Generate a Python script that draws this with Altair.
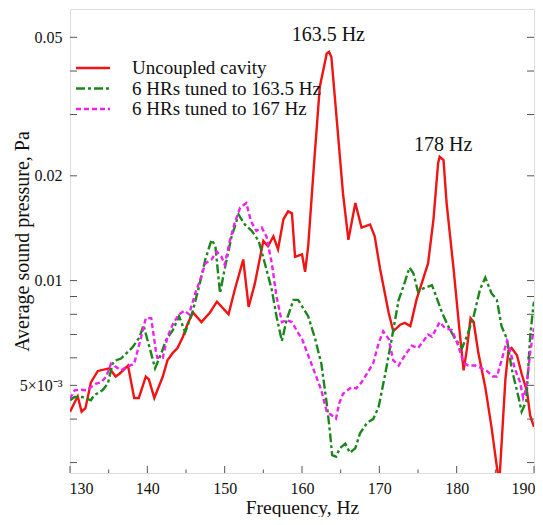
import altair as alt
import pandas as pd

# ---------------- data ----------------
red_f = [130.0, 131.0, 131.5, 132.0, 132.7, 133.6, 135.1, 135.9, 136.4, 137.5, 138.3, 138.9,
         139.8, 140.2, 140.9, 142.0, 142.6, 143.3, 143.9, 144.6, 145.2, 145.9, 147.0, 148.1,
         149.0, 150.5, 151.3, 152.4, 153.1, 153.9, 155.0, 155.6, 156.3, 156.9, 157.6, 158.2,
         158.7, 159.1, 160.0, 160.4, 160.8, 161.5, 162.3, 163.2, 163.5, 163.8, 164.5, 165.3,
         166.0, 166.9, 167.7, 168.8, 169.4, 170.1, 171.2, 171.8, 172.7, 173.3, 174.0, 174.2,
         174.8, 175.5, 176.3, 177.0, 177.6, 177.8, 178.3, 178.7, 179.6, 180.4, 180.9, 181.3,
         181.8, 182.2, 182.8, 183.7, 184.5, 185.5, 186.3, 186.7, 187.1, 187.8, 188.4, 189.1,
         189.5, 190.0]
red_v = [0.0042, 0.00465, 0.0042, 0.0043, 0.0051, 0.0055, 0.0056, 0.0053, 0.0054, 0.0057, 0.0046, 0.0046,
         0.0053, 0.0052, 0.0046, 0.0053, 0.0059, 0.0062, 0.0064, 0.0069, 0.0075, 0.0081, 0.0076, 0.0081,
         0.0087, 0.0080, 0.0094, 0.0115, 0.0084, 0.0098, 0.0130, 0.01255, 0.0134, 0.0123, 0.0150, 0.0158,
         0.0156, 0.0117, 0.0119, 0.0106, 0.01255, 0.0208, 0.036, 0.0449, 0.0454, 0.0439, 0.0289, 0.0178,
         0.0131, 0.0167, 0.0142, 0.0145, 0.0134, 0.0108, 0.0081, 0.00715, 0.00747, 0.00756, 0.0074, 0.0077,
         0.0088, 0.00985, 0.0112, 0.0150, 0.02175, 0.0227, 0.0222, 0.0167, 0.0108, 0.00707, 0.00552, 0.0063,
         0.0078, 0.0076, 0.0062, 0.00494, 0.0038, 0.0026, 0.0052, 0.0063, 0.0064, 0.0061, 0.0054, 0.0048,
         0.0041, 0.0038]

green_f = [130.0, 130.6, 131.6, 132.7, 133.1, 134.2, 134.9, 135.5, 135.9, 136.6, 138.1, 139.0,
           139.5, 140.5, 141.0, 141.8, 142.4, 143.3, 144.1, 144.9, 145.9, 146.8, 147.5, 148.3,
           148.8, 149.4, 150.0, 150.9, 151.8, 152.6, 153.5, 154.4, 155.2, 156.1, 156.7, 157.4,
           158.0, 158.9, 159.5, 160.2, 160.8, 161.7, 162.5, 163.2, 163.6, 163.9, 164.4, 164.9,
           165.6, 166.2, 166.9, 167.5, 168.4, 169.2, 169.9, 170.7, 171.6, 172.5, 173.1, 173.9,
           174.4, 175.0, 175.7, 176.8, 177.2, 178.1, 178.9, 179.8, 180.7, 181.3, 182.2, 183.0,
           183.7, 184.5, 185.2, 185.8, 186.5, 187.1, 188.0, 188.4, 189.0, 189.5, 189.9, 190.0]
green_v = [0.00453, 0.00463, 0.00463, 0.00453, 0.00468, 0.00484, 0.00506, 0.00577, 0.0059, 0.00597, 0.00644, 0.00688,
           0.00744, 0.00617, 0.0056, 0.00617, 0.00674, 0.0072, 0.0079, 0.0071, 0.0082, 0.00985, 0.0115, 0.0131,
           0.01255, 0.0092, 0.0108, 0.0134, 0.01547, 0.0145, 0.0139, 0.0130, 0.0112, 0.0094, 0.0079, 0.0067,
           0.0077, 0.0088, 0.0088, 0.0083, 0.0079, 0.0068, 0.00577, 0.00443, 0.0037, 0.00315, 0.00312, 0.0033,
           0.0034, 0.0032, 0.0033, 0.00364, 0.0039, 0.0040, 0.00433, 0.0053, 0.0068, 0.0088, 0.0096, 0.0109,
           0.0105, 0.0093, 0.0095, 0.0097, 0.0092, 0.0081, 0.0074, 0.0068, 0.0064, 0.0069, 0.0079, 0.0094,
           0.0102, 0.0092, 0.0088, 0.0074, 0.0068, 0.0056, 0.00462, 0.0042, 0.0045, 0.0069, 0.0084, 0.0087]

mag_f = [130.0, 130.6, 131.2, 132.1, 133.4, 134.0, 134.7, 135.3, 136.6, 137.2, 138.3, 139.2,
         139.8, 140.5, 141.1, 141.3, 142.0, 142.6, 143.3, 144.1, 144.8, 145.4, 146.2, 146.8,
         147.5, 148.3, 149.0, 149.6, 150.0, 150.7, 151.3, 152.0, 152.8, 153.4, 154.1, 154.8,
         155.4, 156.1, 156.7, 157.4, 158.0, 158.7, 159.3, 160.0, 160.8, 161.7, 162.5, 163.2,
         163.8, 164.4, 164.8, 165.3, 166.4, 167.0, 167.7, 168.6, 169.2, 169.9, 170.5, 171.2,
         171.8, 172.5, 173.3, 174.2, 175.0, 175.7, 176.3, 176.8, 177.4, 177.8, 178.5, 179.4,
         180.2, 180.9, 181.5, 182.4, 183.2, 183.9, 184.7, 185.2, 185.8, 186.5, 186.9, 187.5,
         188.2, 188.6, 189.0, 189.5, 189.9, 190.0]
mag_v = [0.00458, 0.00484, 0.00486, 0.00484, 0.00506, 0.0051, 0.0053, 0.00577, 0.00552, 0.00563, 0.00577, 0.00688,
         0.0078, 0.0078, 0.0063, 0.006, 0.006, 0.00688, 0.0075, 0.0080, 0.0082, 0.0080, 0.0092, 0.0100,
         0.0112, 0.0115, 0.0121, 0.0117, 0.0111, 0.0131, 0.01465, 0.0162, 0.0167, 0.0148, 0.0139, 0.0142,
         0.0134, 0.0112, 0.0090, 0.0076, 0.0077, 0.0076, 0.0072, 0.0068, 0.0061, 0.0054, 0.00484, 0.0042,
         0.00411, 0.00401, 0.00443, 0.00473, 0.00494, 0.0049, 0.0051, 0.0055, 0.00578, 0.0066, 0.00715, 0.0068,
         0.0059, 0.0057, 0.0061, 0.0065, 0.0064, 0.0067, 0.0070, 0.0069, 0.0073, 0.0076, 0.0073, 0.0072,
         0.0065, 0.0058, 0.0057, 0.0057, 0.0056, 0.0055, 0.0053, 0.0053, 0.0059, 0.0067, 0.0063, 0.0056,
         0.0051, 0.0046, 0.0049, 0.0062, 0.0071, 0.0073]

series_names = ["Uncoupled cavity", "6 HRs tuned to 163.5 Hz", "6 HRs tuned to 167 Hz"]
series_colors = ["#f01414", "#1b861b", "#ee22ee"]

peak_f = [163.4, 178.25]
peak_v = [0.0507, 0.0245]
peak_labels = ["163.5 Hz", "178 Hz"]

x_major = [130, 140, 150, 160, 170, 180, 190]
x_minor = [135, 145, 155, 165, 175, 185]
y_ticks = [0.003, 0.004, 0.005, 0.006, 0.007, 0.008, 0.009, 0.01, 0.02, 0.03, 0.04, 0.05]
y_labelled = [0.005, 0.01, 0.02, 0.05]

# ---------------- chart ----------------
FONT = "Liberation Serif"
W, H = 464, 464
xs = alt.Scale(domain=[130, 190], nice=False, zero=False)
ys = alt.Scale(type="log", domain=[0.0028, 0.0603], nice=False)

x_axis = alt.Axis(values=x_major, format="d", tickSize=0, domain=False, grid=False,
                  labelFlush=True, labelFlushOffset=1, labelPadding=7,
                  labelFont=FONT, labelFontSize=16, labelColor="#111",
                  title="Frequency, Hz", titleY=34, titleBaseline="middle",
                  titleFont=FONT, titleFontSize=19.5, titleFontWeight="normal", titleColor="#111")
y_axis = alt.Axis(values=y_labelled, tickSize=0, domain=False, grid=False,
                  labelExpr="datum.value < 0.006 ? '5×10⁻³' : format(datum.value, '.2f')",
                  labelFlush=False, labelPadding=8,
                  labelFont=FONT, labelFontSize=16, labelColor="#111",
                  title="Average sound pressure, Pa",
                  titleX=-48, titleY=H / 2, titleAngle=270,
                  titleBaseline="middle", titleAlign="center",
                  titleFont=FONT, titleFontSize=20, titleFontWeight="normal", titleColor="#111")

X = lambda f: alt.X(f, scale=xs, axis=x_axis)
Y = lambda f: alt.Y(f, scale=ys, axis=y_axis)

def line_layer(f, v, color, dash):
    df = pd.DataFrame({"f": f, "v": v})
    kw = dict(color=color, strokeWidth=2.4, clip=True)
    if dash:
        kw["strokeDash"] = dash
    return alt.Chart(df).mark_line(**kw).encode(x=X("f:Q"), y=Y("v:Q"))

red = line_layer(red_f, red_v, series_colors[0], None)
green = line_layer(green_f, green_v, series_colors[1], [9, 3, 3, 3])
mag = line_layer(mag_f, mag_v, series_colors[2], [5, 3])

# inward ticks
tick_col = "#555555"
ydf = pd.DataFrame({"v": y_ticks})
ytick_l = alt.Chart(ydf).mark_rule(color=tick_col, strokeWidth=1).encode(
    y=Y("v:Q"), x=alt.value(0), x2=alt.value(7))
ytick_r = alt.Chart(ydf).mark_rule(color=tick_col, strokeWidth=1).encode(
    y=Y("v:Q"), x=alt.value(W - 7), x2=alt.value(W))
xtick_maj = alt.Chart(pd.DataFrame({"f": x_major})).mark_rule(color=tick_col, strokeWidth=1).encode(
    x=X("f:Q"), y=alt.value(H - 7), y2=alt.value(H))
xtick_min = alt.Chart(pd.DataFrame({"f": x_minor})).mark_rule(color=tick_col, strokeWidth=1).encode(
    x=X("f:Q"), y=alt.value(H - 3.5), y2=alt.value(H))

# peak annotations
ann = alt.Chart(pd.DataFrame({"f": peak_f, "v": peak_v, "t": peak_labels})).mark_text(
    font=FONT, fontSize=20, align="center", baseline="middle", color="#111").encode(
    x=X("f:Q"), y=Y("v:Q"), text="t:N")

# legend (manual, top-left inside the plot)
legend_layers = []
dashes = [None, [9, 3, 3, 3], [5, 3]]
for i, (name, col, dash) in enumerate(zip(series_names, series_colors, dashes)):
    yy = 59 + i * 20.5
    kw = dict(color=col, strokeWidth=2.4)
    if dash:
        kw["strokeDash"] = dash
    d = pd.DataFrame({"label": [name]})
    legend_layers.append(alt.Chart(d).mark_rule(**kw).encode(
        x=alt.value(6), x2=alt.value(40), y=alt.value(yy)))
    legend_layers.append(alt.Chart(d).mark_text(
        font=FONT, fontSize=19, align="left", baseline="middle", color="#111").encode(
        x=alt.value(62), y=alt.value(yy), text="label:N"))

chart = alt.layer(red, green, mag, ytick_l, ytick_r, xtick_maj, xtick_min, ann, *legend_layers).properties(
    width=W, height=H,
    padding={"left": 4, "top": 1, "right": 0, "bottom": 0},
).configure_view(
    stroke="#555555", strokeWidth=1.4
).configure(background="white")

chart.save("out.html", embed_options={"renderer": "svg", "actions": False})
